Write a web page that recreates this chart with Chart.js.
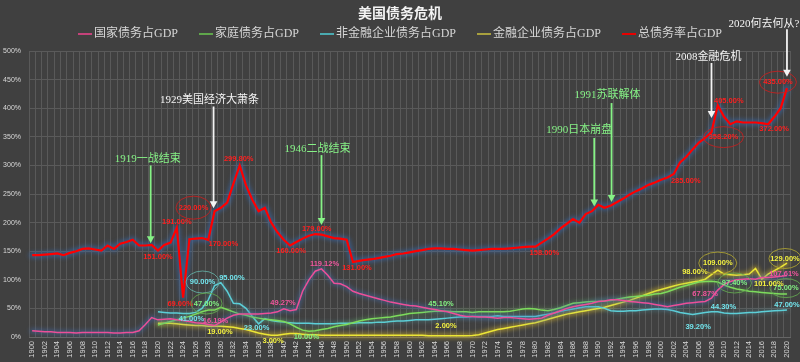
<!DOCTYPE html>
<html>
<head>
<meta charset="utf-8">
<title>美国债务危机</title>
<script src="https://cdn.jsdelivr.net/npm/chart.js@4.4.0/dist/chart.umd.min.js"></script>
<style>
  html, body { margin: 0; padding: 0; background: #404040; }
  canvas { display: block; }
</style>
</head>
<body>
<canvas id="debtChart" width="800" height="362"></canvas>
<script>
// Years on the x axis
const years = [
  1900, 1901, 1902, 1903, 1904, 1905, 1906, 1907, 1908, 1909,
  1910, 1911, 1912, 1913, 1914, 1915, 1916, 1917, 1918, 1919,
  1920, 1921, 1922, 1923, 1924, 1925, 1926, 1927, 1928, 1929,
  1930, 1931, 1932, 1933, 1934, 1935, 1936, 1937, 1938, 1939,
  1940, 1941, 1942, 1943, 1944, 1945, 1946, 1947, 1948, 1949,
  1950, 1951, 1952, 1953, 1954, 1955, 1956, 1957, 1958, 1959,
  1960, 1961, 1962, 1963, 1964, 1965, 1966, 1967, 1968, 1969,
  1970, 1971, 1972, 1973, 1974, 1975, 1976, 1977, 1978, 1979,
  1980, 1981, 1982, 1983, 1984, 1985, 1986, 1987, 1988, 1989,
  1990, 1991, 1992, 1993, 1994, 1995, 1996, 1997, 1998, 1999,
  2000, 2001, 2002, 2003, 2004, 2005, 2006, 2007, 2008, 2009,
  2010, 2011, 2012, 2013, 2014, 2015, 2016, 2017, 2018, 2019, 2020
];

// 国家债务占GDP (%)
const nationalDebt = [
  11, 10, 9, 9, 8, 8, 8, 7, 8, 8,
  8, 8, 8, 7, 7, 8, 8, 11, 22, 34,
  30, 31, 32, 30, 29, 27, 25, 24, 22, 20,
  26, 33, 38, 40, 40, 40, 40, 41, 42, 44,
  49.27, 46, 48, 80, 100, 115, 119.12, 108, 94, 93,
  88, 80, 76, 73, 70, 67, 64, 61, 59, 57,
  55, 54, 52, 50, 48, 46, 44, 41, 38, 36,
  36, 35, 35, 34, 33, 34, 34, 33, 32, 31,
  32, 33, 38, 42, 46, 50, 53, 55, 57, 59,
  62, 63, 65, 65, 64, 62, 61, 60, 59, 57,
  55, 53, 55, 57, 59, 60, 61, 62, 67.87, 82,
  92, 97, 100, 101, 102, 101, 104, 104, 105, 106, 107.61
];

// 家庭债务占GDP (%)
const householdDebt = [
  null, null, null, null, null, null, null, null, null, null,
  null, null, null, null, null, null, null, null, null, null,
  21, 24, 27, 30, 33, 36, 40, 44, 47, 47,
  52, 48, 44, 40, 38, 35, 33, 31, 30, 29,
  27, 23, 17, 12, 10, 11, 13, 15, 18, 20,
  22, 25, 28, 30, 32, 33, 34, 35, 37, 39,
  41, 42, 43, 44, 45, 45.1, 45, 44, 44, 44,
  43, 44, 44, 44, 44, 44, 45, 47, 49, 50,
  49, 47, 46, 48, 51, 55, 59, 60, 61, 62,
  62, 63, 64, 66, 68, 70, 71, 72, 73, 75,
  76, 79, 83, 87, 90, 93, 96, 97, 97.4, 96,
  91, 87, 84, 82, 80, 79, 78, 77, 76, 75, 75
];

// 非金融企业债务占GDP (%)
const nonFinCorpDebt = [
  null, null, null, null, null, null, null, null, null, null,
  null, null, null, null, null, null, null, null, null, null,
  44, 43, 42, 42, 41, 41, 43, 50, 65, 90,
  95, 80, 59, 58, 50, 36, 23, 32, 29, 27,
  26, 25, 24, 24, 24, 23, 23, 23, 23, 24,
  24, 24, 25, 25, 25, 26, 26, 27, 28, 28,
  29, 30, 30, 30, 31, 32, 33, 34, 35, 35,
  36, 36, 36, 36, 37, 36, 36, 36, 36, 36,
  36, 38, 40, 42, 45, 47, 49, 51, 53, 53,
  53, 50, 46, 45, 45, 46, 46, 47, 48, 49,
  49, 48, 46, 43, 41, 39.2, 41, 43, 44.3, 44,
  42, 41, 41, 42, 43, 43, 44, 45, 46, 46.5, 47
];

// 金融企业债务占GDP (%)
const finCorpDebt = [
  null, null, null, null, null, null, null, null, null, null,
  null, null, null, null, null, null, null, null, null, null,
  24, 24, 24, 23, 22, 21, 20, 20, 19, 19,
  19, 18, 17, 15, 13, 10, 7, 5, 3, 3,
  5, 6, 6, 5, 4, 4, 3, 3, 3, 3,
  3, 3, 3, 3, 3, 3, 3, 3, 3, 3,
  3, 3, 3, 2, 2, 2, 2, 2, 2, 2,
  2.5, 4, 7, 10, 13, 15, 17, 19, 21, 23,
  25, 28, 31, 34, 37, 40, 42, 44, 46, 48,
  50, 52, 55, 58, 61, 64, 68, 72, 76, 80,
  83, 86, 89, 92, 94, 96, 98, 101, 109, 117,
  110, 109, 108, 109, 110, 120, 101, 110, 116, 122, 129
];

// 总债务率占GDP (%)
const totalDebt = [
  143, 143, 144, 145, 146, 143, 147, 150, 154, 155,
  153, 151, 160, 154, 163, 166, 170, 160, 160, 161,
  151, 161, 165, 191, 69, 171, 172, 173, 170, 220,
  226, 235, 268, 299.8, 265, 240, 220, 226, 200, 183,
  170, 160, 166, 172, 177, 180, 179, 176, 173, 172,
  170, 131, 133, 135, 136, 138, 140, 142, 145, 146,
  148, 150, 152, 154, 155, 155, 154, 154, 153, 152,
  151, 152, 153, 154, 154, 154, 155, 156, 157, 158,
  158, 165, 172, 180, 190, 198, 206, 200, 215, 220,
  231, 226, 230, 236, 242, 249, 255, 260, 266, 270,
  275, 279, 285, 305, 315, 328, 340, 348, 358.2, 405,
  385, 372, 377, 375, 375, 375, 374, 372, 385, 400, 435
];

const yMax = 500;
const yStep = 50;

// Value labels: [series, year, text, dx, dy, ellipse rx, ellipse ry]
// series: 0 国家, 1 家庭, 2 非金融, 3 金融, 4 总
const pointLabels = [
  [4, 1920, '151.00%', 0, 6],
  [4, 1923, '191.00%', 0, -6],
  [4, 1924, '69.00%', -3, 6],
  [4, 1928, '170.00%', 15, 4],
  [4, 1929, '220.00%', -21, -3.5, 17.5, 11.5],
  [4, 1933, '299.80%', -1, -6.5],
  [4, 1941, '160.00%', 1, 5.5],
  [4, 1945, '179.00%', 1.5, -5],
  [4, 1951, '131.00%', 4, 5.6],
  [4, 1980, '158.00%', 9, 6],
  [4, 2002, '285.00%', 12, 6.7],
  [4, 2008, '358.20%', 12, 5, 20, 10.5],
  [4, 2009, '405.00%', 11, -4.6],
  [4, 2017, '372.00%', 6, 5],
  [4, 2020, '435.00%', -9, -6, 18.5, 11],
  [2, 1925, '41.00%', 2, 5],
  [2, 1929, '90.00%', -12, -3.5, 16.5, 11],
  [2, 1930, '95.00%', 11, -5],
  [2, 1936, '23.00%', -2, 4],
  [2, 2005, '39.20%', 5.5, 12.7],
  [2, 2008, '44.30%', 12, -5],
  [2, 2020, '47.00%', 0, -5],
  [1, 1929, '47.00%', -8, -6.6, 15.5, 10.5],
  [1, 1944, '10.00%', -2.5, 5.4],
  [1, 1965, '45.10%', 0, -7],
  [1, 2008, '97.40%', 23, 1.7, 17, 10],
  [1, 2020, '75.00%', -1, -6, 16, 9.5],
  [3, 1930, '19.00%', -1, 6],
  [3, 1939, '3.00%', -4.4, 5.4],
  [3, 1965, '2.00%', 5, -10],
  [3, 2006, '98.00%', -4, -9.3],
  [3, 2009, '109.00%', 0, -7, 19, 11],
  [3, 2016, '101.00%', 7, 5],
  [3, 2020, '129.00%', -2, -4.7, 16, 10],
  [0, 1929, '16.19%', 1, -4.6],
  [0, 1940, '49.27%', -0.7, -5.5],
  [0, 1946, '119.12%', 3, -4.6],
  [0, 2008, '67.87%', -6.4, -4],
  [0, 2020, '107.61%', -3, -2]
];

// Events: [year, text, colour, text level %, arrow top %, arrow tip %, arrow dx, text dx]
const events = [
  [1919, '1919一战结束', '#86f286', 311, 300, 164, -1, -3],
  [1929, '1929美国经济大萧条', '#f4f4f4', 414, 403, 225, -1, -4],
  [1946, '1946二战结束', '#86f286', 329, 318, 196, 0, -4],
  [1990, '1990日本崩盘', '#86f286', 362, 348, 228, -4, -15],
  [1991, '1991苏联解体', '#86f286', 423, 409, 236, 7, -4],
  [2008, '2008金融危机', '#f4f4f4', 490, 479, 383, 0, -3],
  [2020, '2020何去何从?', '#f4f4f4', 547, 538, 455, 0, -23]
];

const serifFont = "'Liberation Serif', 'Noto Sans CJK SC', serif";
const labelFont = "bold 7.5px 'Liberation Sans Narrow', 'Liberation Sans', sans-serif";

const series = [
  { label: '国家债务占GDP', data: nationalDebt, color: '#ec4f98', legendColor: '#c4427a', textColor: '#f0559e', glow: 'rgba(70,110,175,0.5)', glowWidth: 5, width: 1.5 },
  { label: '家庭债务占GDP', data: householdDebt, color: '#7ddc5c', legendColor: '#5fa64b', textColor: '#82f082', glow: 'rgba(110,200,90,0.3)', glowWidth: 4, width: 1.5 },
  { label: '非金融企业债务占GDP', data: nonFinCorpDebt, color: '#5ccfd8', legendColor: '#4aaab0', textColor: '#72e4ec', glow: 'rgba(90,200,215,0.25)', glowWidth: 4, width: 1.5 },
  { label: '金融企业债务占GDP', data: finCorpDebt, color: '#ece636', legendColor: '#a8a03e', textColor: '#f2f040', glow: 'rgba(225,190,40,0.5)', glowWidth: 5, width: 1.5 },
  { label: '总债务率占GDP', data: totalDebt, color: '#ff0000', legendColor: '#e80000', textColor: '#ff1e1e', glow: 'rgba(55,105,170,0.65)', glowWidth: 6, width: 2.2 }
];

const ellipseColors = ['rgba(200,70,130,0.8)', 'rgba(100,170,80,0.85)', 'rgba(100,175,165,0.85)', 'rgba(170,160,50,0.9)', 'rgba(200,30,30,0.85)'];

// Background
const backgroundPlugin = {
  id: 'background',
  beforeDraw(chart) {
    const ctx = chart.ctx;
    ctx.save();
    ctx.fillStyle = '#404040';
    ctx.fillRect(0, 0, chart.width, chart.height);
    ctx.restore();
  }
};

// Soft glow under each line
const glowPlugin = {
  id: 'glow',
  beforeDatasetDraw(chart, args) {
    const ds = chart.data.datasets[args.index];
    if (!ds.glowColor) return;
    const ctx = chart.ctx;
    ctx.save();
    ctx.beginPath();
    let pen = false;
    args.meta.data.forEach(p => {
      if (p.skip) { pen = false; return; }
      if (!pen) { ctx.moveTo(p.x, p.y); pen = true; } else { ctx.lineTo(p.x, p.y); }
    });
    ctx.lineWidth = ds.glowWidth;
    ctx.strokeStyle = ds.glowColor;
    ctx.lineJoin = 'round';
    ctx.lineCap = 'round';
    ctx.filter = 'blur(2px)';
    ctx.stroke();
    ctx.restore();
  }
};

// Title, legend, value labels and event arrows
const annotationPlugin = {
  id: 'annotations',
  afterDatasetsDraw(chart) {
    const ctx = chart.ctx;
    const xScale = chart.scales.x;
    const yScale = chart.scales.y;

    // value labels
    ctx.save();
    ctx.font = labelFont;
    ctx.textAlign = 'center';
    ctx.textBaseline = 'middle';
    pointLabels.forEach(([s, year, text, dx, dy, rx, ry]) => {
      const idx = years.indexOf(year);
      const pt = chart.getDatasetMeta(s).data[idx];
      const x = pt.x + dx;
      const y = pt.y + dy;
      if (rx) {
        ctx.beginPath();
        ctx.ellipse(x, y, rx, ry, 0, 0, Math.PI * 2);
        ctx.strokeStyle = ellipseColors[s];
        ctx.lineWidth = 1;
        ctx.stroke();
      }
      ctx.fillStyle = series[s].textColor;
      ctx.fillText(text, x, y);
    });
    ctx.restore();

    // event arrows
    ctx.save();
    ctx.font = '11px ' + serifFont;
    ctx.textAlign = 'center';
    ctx.textBaseline = 'middle';
    events.forEach(([year, text, color, textLevel, top, tip, adx, tdx]) => {
      const ax = xScale.getPixelForValue(years.indexOf(year)) + adx;
      const yTop = yScale.getPixelForValue(top);
      const yTip = yScale.getPixelForValue(tip);
      ctx.strokeStyle = color;
      ctx.fillStyle = color;
      ctx.lineWidth = 1.8;
      ctx.beginPath();
      ctx.moveTo(ax, yTop);
      ctx.lineTo(ax, yTip - 6);
      ctx.stroke();
      ctx.beginPath();
      ctx.moveTo(ax - 3.8, yTip - 7);
      ctx.lineTo(ax + 3.8, yTip - 7);
      ctx.lineTo(ax, yTip);
      ctx.closePath();
      ctx.fill();
      ctx.fillText(text, ax + tdx, yScale.getPixelForValue(textLevel));
    });
    ctx.restore();
  },
  afterDraw(chart) {
    const ctx = chart.ctx;
    ctx.save();
    // title
    ctx.font = 'bold 14px ' + serifFont;
    ctx.fillStyle = '#f2f2f2';
    ctx.textAlign = 'center';
    ctx.textBaseline = 'middle';
    ctx.fillText('美国债务危机', chart.width / 2, 14);

    // legend
    ctx.font = '12px ' + serifFont;
    ctx.textAlign = 'left';
    const sw = 14, gapText = 2, gapItem = 21;
    const widths = chart.data.datasets.map(ds => sw + gapText + ctx.measureText(ds.label).width);
    const total = widths.reduce((a, b) => a + b, 0) + gapItem * (widths.length - 1);
    let x = (chart.width - total) / 2;
    const ly = 34;
    chart.data.datasets.forEach((ds, i) => {
      ctx.strokeStyle = ds.legendColor;
      ctx.lineWidth = 2;
      ctx.beginPath();
      ctx.moveTo(x, ly);
      ctx.lineTo(x + sw, ly);
      ctx.stroke();
      ctx.fillStyle = '#d6d6d6';
      ctx.fillText(ds.label, x + sw + gapText, ly);
      x += widths[i] + gapItem;
    });
    ctx.restore();
  }
};

const ctx = document.getElementById('debtChart').getContext('2d');
const debtChart = new Chart(ctx, {
  type: 'line',
  data: {
    labels: years,
    datasets: series.map(s => ({
      label: s.label,
      data: s.data,
      borderColor: s.color,
      backgroundColor: s.color,
      borderWidth: s.width,
      legendColor: s.legendColor,
      glowColor: s.glow,
      glowWidth: s.glowWidth,
      pointRadius: 0,
      tension: 0,
      spanGaps: false
    }))
  },
  options: {
    responsive: false,
    animation: false,
    devicePixelRatio: 1,
    layout: { padding: { top: 51, right: 9, left: 0, bottom: 0 } },
    plugins: {
      legend: { display: false },
      title: { display: false },
      tooltip: { enabled: false }
    },
    scales: {
      x: {
        type: 'category',
        offset: true,
        grid: { color: '#595959', offset: true, drawTicks: false },
        border: { color: '#666666' },
        ticks: {
          autoSkip: false,
          minRotation: 90,
          maxRotation: 90,
          padding: 4,
          color: '#d9d9d9',
          font: { family: 'Liberation Sans', size: 7.5 },
          callback: function (value, index) {
            return index % 2 === 0 ? this.getLabelForValue(value) : '';
          }
        },
        afterFit: scale => { scale.height = 25; }
      },
      y: {
        min: 0,
        max: yMax,
        grid: { color: '#5a5a5a', drawTicks: false },
        border: { display: false },
        ticks: {
          stepSize: yStep,
          padding: 8,
          color: '#d9d9d9',
          font: { family: 'Liberation Sans', size: 7 },
          callback: value => value + '%'
        },
        afterFit: scale => { scale.width = 29; }
      }
    }
  },
  plugins: [backgroundPlugin, glowPlugin, annotationPlugin]
});
</script>
</body>
</html>
